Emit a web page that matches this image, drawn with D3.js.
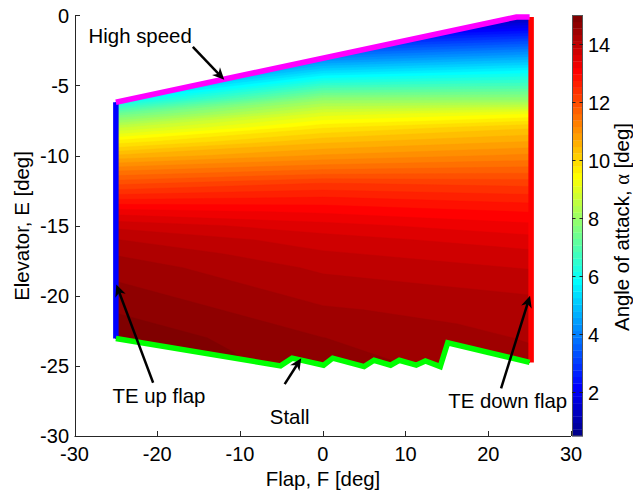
<!DOCTYPE html>
<html>
<head>
<meta charset="utf-8">
<script src="https://cdn.jsdelivr.net/npm/d3@7"></script>
<style>
  html, body { margin: 0; padding: 0; background: #fff; }
  svg { display: block; font-family: "Liberation Sans", Arial, sans-serif; }
</style>
</head>
<body>
<svg id="chart" width="633" height="495"></svg>
<script>
// Trim angle of attack (deg) sampled over flap and elevator deflection
const flapSamples = [-25, 0, 25];
const elevatorSamples = [0, -1, -2, -3, -4, -5, -6, -7, -8, -9, -10, -11, -12, -13,
  -14, -15, -16, -17, -18, -19, -20, -21, -22, -23, -24, -25, -26];
const alphaFlapUp = [0.5, 0.5, 0.7, 1.9, 3.1, 4.4, 5.7, 7.3, 8.6, 9.65, 10.5, 11.3, 12.0, 12.65,
  13.3, 13.8, 14.1, 14.3, 14.45, 14.55, 14.65, 14.75, 14.85, 14.95, 15.0, 15.0, 15.0];
const alphaFlapZero = [0.5, 1.6, 2.8, 4.0, 5.3, 6.6, 7.9, 8.95, 9.75, 10.4, 10.95, 11.6, 12.3, 12.75,
  13.15, 13.5, 13.75, 13.9, 14.05, 14.15, 14.25, 14.35, 14.45, 14.55, 14.6, 14.65, 14.7];
const alphaFlapDown = [1.0, 2.2, 3.4, 4.6, 5.8, 6.8, 7.9, 9.3, 10.2, 10.7, 11.2, 11.7, 12.2, 12.6,
  12.95, 13.25, 13.5, 13.7, 13.85, 14.0, 14.1, 14.2, 14.25, 14.3, 14.35, 14.4, 14.4];

// Envelope limits
const highSpeedFlap = [-25, 23.4, 25];
const highSpeedElev = [-6.2, -0.12, -0.12];
const teUpFlap = [-25, -25];
const teUpElev = [-6.2, -23.05];
const teDownFlap = [25, 25];
const teDownElev = [-0.12, -24.75];
const stallFlap = [-25, -5.1, -3.7, 0.1, 1.2, 5.0, 6.2, 8.2, 9.25, 11.3, 12.4, 14.2, 15.1, 25];
const stallElev = [-23.05, -25.0, -24.45, -24.95, -24.45, -25.05, -24.6, -24.95, -24.6, -24.95, -24.65, -25.05, -23.35, -24.75];

// Axis ticks
const flapTicks = [-30, -20, -10, 0, 10, 20, 30];
const elevTicks = [0, -5, -10, -15, -20, -25, -30];
const alphaTicks = [2, 4, 6, 8, 10, 12, 14];
const alphaLimits = [0.5, 15];

// Labels pointing at each limit
const notes = [
  { text: "High speed", f: -28.3, e: -2.0, anchor: "start", from: [-15.7, -2.25], to: [-11.9, -4.6] },
  { text: "TE up flap", f: -19.8, e: -27.65, anchor: "middle", from: [-20.5, -26.2], to: [-24.95, -19.2] },
  { text: "Stall", f: -4.0, e: -29.15, anchor: "middle", from: [-4.6, -26.3], to: [-2.6, -24.45] },
  { text: "TE down flap", f: 22.35, e: -28.0, anchor: "middle", from: [21.55, -26.6], to: [25.05, -20.0] }
];

const svg = d3.select("#chart");
const x = d3.scaleLinear().domain([-30, 30]).range([74.5, 571]);
const y = d3.scaleLinear().domain([-30, 0]).range([436, 15.3]);
const cbX0 = 572, cbX1 = 583;
const yc = d3.scaleLinear().domain(alphaLimits).range([436, 15.3]);

// MATLAB-style 64-entry jet colormap
function jet64() {
  const m = 64, n = 16;
  const u = [];
  for (let i = 1; i <= n; i++) u.push(i / n);
  for (let i = 1; i < n; i++) u.push(1);
  for (let i = n; i >= 1; i--) u.push(i / n);
  const J = d3.range(m).map(() => [0, 0, 0]);
  u.forEach((v, k) => {
    const g = Math.ceil(n / 2) + k + 1;
    const r = g + n, b = g - n;
    if (r >= 1 && r <= m) J[r - 1][0] = v;
    if (g >= 1 && g <= m) J[g - 1][1] = v;
    if (b >= 1 && b <= m) J[b - 1][2] = v;
  });
  return J.map(c => d3.rgb(c[0] * 255, c[1] * 255, c[2] * 255).formatHex());
}
const cmap = jet64();
const nLevels = cmap.length;
const step = (alphaLimits[1] - alphaLimits[0]) / nLevels;

// Clip region: the flight envelope
const envelope = [];
highSpeedFlap.forEach((f, i) => envelope.push([f, highSpeedElev[i]]));
teDownFlap.forEach((f, i) => envelope.push([f, teDownElev[i]]));
for (let i = stallFlap.length - 1; i >= 0; i--) envelope.push([stallFlap[i], stallElev[i]]);
teUpFlap.forEach((f, i) => envelope.push([f, teUpElev[i]]));

svg.append("clipPath").attr("id", "env")
  .append("path")
  .attr("d", d3.line().x(d => x(d[0])).y(d => y(d[1]))(envelope) + "Z");

// Filled contour bands
const columns = [alphaFlapUp, alphaFlapZero, alphaFlapDown];
const nx = flapSamples.length, ny = elevatorSamples.length;
const values = [];
for (let j = 0; j < ny; j++) for (let i = 0; i < nx; i++) values.push(columns[i][j]);
const dF = (flapSamples[nx - 1] - flapSamples[0]) / (nx - 1);
const dE = (elevatorSamples[ny - 1] - elevatorSamples[0]) / (ny - 1);
const gridToPx = d3.geoTransform({
  point(gx, gy) {
    this.stream.point(x(flapSamples[0] + (gx - 0.5) * dF), y(elevatorSamples[0] + (gy - 0.5) * dE));
  }
});
const gpath = d3.geoPath(gridToPx);
const levels = d3.range(1, nLevels).map(k => alphaLimits[0] + k * step);
const bands = d3.contours().size([nx, ny]).thresholds(levels)(values);

const surf = svg.append("g").attr("clip-path", "url(#env)");
surf.append("rect").attr("x", x(-30)).attr("y", y(0)).attr("width", x(30) - x(-30))
  .attr("height", y(-30) - y(0)).attr("fill", cmap[0]);
surf.selectAll("path.band").data(bands).join("path")
  .attr("class", "band")
  .attr("d", gpath)
  .attr("fill", (d, i) => cmap[i + 1])
  .attr("stroke", (d, i) => cmap[i + 1])
  .attr("stroke-width", 0.4);

// Envelope limit lines
const lw = 5.5;
const limLine = (fs, es) => d3.line().x((d, i) => x(fs[i])).y((d, i) => y(es[i]))(fs);
svg.append("path").attr("d", limLine(teUpFlap, teUpElev)).attr("fill", "none")
  .attr("stroke", "#0000ff").attr("stroke-width", lw);
svg.append("path").attr("d", limLine(teDownFlap, teDownElev)).attr("fill", "none")
  .attr("stroke", "#ff0000").attr("stroke-width", lw).attr("transform", "translate(1.5,0)");
svg.append("path").attr("d", limLine(stallFlap, stallElev)).attr("fill", "none")
  .attr("stroke", "#00ff00").attr("stroke-width", lw).attr("stroke-linejoin", "miter");
svg.append("path").attr("d", limLine(highSpeedFlap, highSpeedElev)).attr("fill", "none")
  .attr("stroke", "#ff00ff").attr("stroke-width", lw);

// Axes (left and bottom, ticks pointing inward)
const axisColor = "#262626";
const ax = svg.append("g");
ax.append("line").attr("x1", x(-30)).attr("x2", x(30)).attr("y1", 436.5).attr("y2", 436.5)
  .attr("stroke", axisColor).attr("stroke-width", 1);
ax.append("line").attr("x1", 75.5).attr("x2", 75.5).attr("y1", y(0)).attr("y2", y(-30))
  .attr("stroke", axisColor).attr("stroke-width", 1);
flapTicks.forEach(t => {
  ax.append("line").attr("x1", Math.round(x(t)) + 0.5).attr("x2", Math.round(x(t)) + 0.5)
    .attr("y1", 436).attr("y2", 431).attr("stroke", axisColor);
  ax.append("text").attr("x", x(t)).attr("y", 461).attr("text-anchor", "middle")
    .attr("font-size", 20).text(t);
});
elevTicks.forEach(t => {
  ax.append("line").attr("x1", 75).attr("x2", 80)
    .attr("y1", Math.round(y(t)) + 0.5).attr("y2", Math.round(y(t)) + 0.5).attr("stroke", axisColor);
  ax.append("text").attr("x", 69).attr("y", y(t)).attr("dy", "0.36em").attr("text-anchor", "end")
    .attr("font-size", 20).text(t);
});
svg.append("text").attr("x", 323).attr("y", 485.5).attr("text-anchor", "middle")
  .attr("font-size", 20.4).text("Flap, F [deg]");
svg.append("text").attr("transform", "translate(29,226) rotate(-90)").attr("text-anchor", "middle")
  .attr("font-size", 20.4).text("Elevator, E [deg]");

// Colorbar
const cb = svg.append("g");
d3.range(nLevels).forEach(k => {
  const v0 = alphaLimits[0] + k * step, v1 = v0 + step;
  cb.append("rect").attr("x", cbX0).attr("width", cbX1 - cbX0)
    .attr("y", yc(v1)).attr("height", yc(v0) - yc(v1) + 0.3)
    .attr("fill", cmap[k]);
});
cb.append("rect").attr("x", cbX0 + 0.5).attr("y", 15.5).attr("width", cbX1 - cbX0 - 1)
  .attr("height", 420.5).attr("fill", "none").attr("stroke", "#555").attr("stroke-width", 1);
alphaTicks.forEach(t => {
  const yy = Math.round(yc(t)) + 0.5;
  cb.append("line").attr("x1", cbX0).attr("x2", cbX0 + 3.5).attr("y1", yy).attr("y2", yy)
    .attr("stroke", "#222");
  cb.append("line").attr("x1", cbX1 - 3.5).attr("x2", cbX1).attr("y1", yy).attr("y2", yy)
    .attr("stroke", "#222");
  cb.append("text").attr("x", cbX1 + 5).attr("y", yc(t)).attr("dy", "0.36em")
    .attr("font-size", 20).text(t);
});
const cbLabel = svg.append("text").attr("transform", "translate(628.5,227) rotate(-90)")
  .attr("text-anchor", "middle").attr("font-size", 20.4);
cbLabel.append("tspan").text("Angle of attack, ");
cbLabel.append("tspan").attr("font-family", "'Liberation Serif', 'DejaVu Serif', serif").text("α");
cbLabel.append("tspan").text(" [deg]");

// Annotations with arrows
function arrow(g, x1, y1, x2, y2) {
  const dx = x2 - x1, dy = y2 - y1, len = Math.hypot(dx, dy);
  const ux = dx / len, uy = dy / len, nxv = -uy, nyv = ux;
  const L = 12, W = 5.5;
  g.append("line").attr("x1", x1).attr("y1", y1)
    .attr("x2", x2 - ux * L * 0.6).attr("y2", y2 - uy * L * 0.6)
    .attr("stroke", "#000").attr("stroke-width", 2.5);
  const bx = x2 - ux * L, by = y2 - uy * L;
  const pts = [
    [x2, y2],
    [bx + nxv * W, by + nyv * W],
    [x2 - ux * L * 0.7, y2 - uy * L * 0.7],
    [bx - nxv * W, by - nyv * W]
  ];
  g.append("polygon").attr("points", pts.map(p => p.join(",")).join(" ")).attr("fill", "#000");
}
const ng = svg.append("g");
notes.forEach(n => {
  ng.append("text").attr("x", x(n.f)).attr("y", y(n.e)).attr("text-anchor", n.anchor)
    .attr("font-size", 20.4).text(n.text);
  arrow(ng, x(n.from[0]), y(n.from[1]), x(n.to[0]), y(n.to[1]));
});
</script>
</body>
</html>
